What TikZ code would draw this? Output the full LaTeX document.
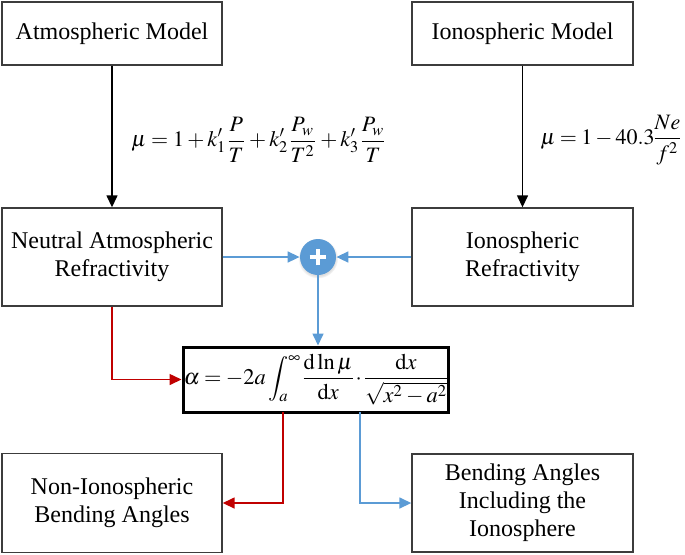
\documentclass[tikz,border=0pt]{standalone}
\usepackage{mathptmx}
\usepackage[no-math]{fontspec}
\setmainfont{Liberation Serif}
\usetikzlibrary{arrows.meta,calc,shadows}
\definecolor{myblue}{RGB}{91,155,213}
\definecolor{myred}{RGB}{192,0,0}
\definecolor{boxgray}{RGB}{60,60,60}
\newcommand{\eqtight}{\medmuskip=2.5mu\thickmuskip=3.5mu\nulldelimiterspace=0pt}
\newcommand{\tallfrac}[2]{\frac{#1\rule[-1.8pt]{0pt}{1pt}}{\rule{0pt}{9.2pt}#2}}
\tikzset{
  box/.style={draw=boxgray,line width=0.7pt,fill=white,align=center,inner sep=0pt,
    font=\fontsize{12}{14}\selectfont},
  blk/.style={draw=black,line width=0.7pt,-{Triangle[length=6pt,width=5.5pt]}},
  bl/.style={draw=myblue,line width=0.8pt,-{Triangle[length=6pt,width=5.5pt]}},
  rd/.style={draw=myred,line width=0.8pt,-{Triangle[length=6pt,width=5.5pt]}},
  eq/.style={font=\fontsize{11}{13}\selectfont,inner sep=0pt},
}
\begin{document}
\begin{tikzpicture}[x=0.5pt,y=-0.5pt]
\useasboundingbox (0,0) rectangle (685,554);
\node[box,minimum width=110pt,minimum height=31.5pt] (A) at (112,33.5) {Atmospheric Model};
\node[box,minimum width=110.5pt,minimum height=31.5pt] (B) at (522.5,33.5) {Ionospheric Model};
\node[box,minimum width=110pt,minimum height=49pt] (C) at (112,257) {Neutral Atmospheric\\Refractivity};
\node[box,minimum width=110.5pt,minimum height=49pt] (D) at (522.5,257) {Ionospheric\\Refractivity};
\node[circle,fill=myblue,minimum size=18pt,inner sep=0pt,
  circular drop shadow={opacity=0.25,shadow xshift=0pt,shadow yshift=-0.6pt,shadow scale=1.12},
  path picture={\draw[white,line width=1.6pt] ([xshift=-4.2pt]path picture bounding box.center) -- ([xshift=4.2pt]path picture bounding box.center);
  \draw[white,line width=1.6pt] ([yshift=-4.2pt]path picture bounding box.center) -- ([yshift=4.2pt]path picture bounding box.center);}] (P) at (318,257) {};
\node[box,draw=black,line width=1.5pt,minimum width=132.5pt,minimum height=32.5pt,font=\fontsize{11.2}{13}\selectfont] (F) at (315.5,379.5)
  {$\eqtight\displaystyle \alpha=-2a\int_a^{\infty}\frac{\mathrm{d}\ln\mu}{\mathrm{d}x}\cdot\frac{\mathrm{d}x}{\sqrt{x^2-a^2}}$};
\node[box,minimum width=110pt,minimum height=49.5pt] (G) at (112,503) {Non-Ionospheric\\Bending Angles};
\node[box,minimum width=110.5pt,minimum height=49pt] (H) at (522.5,503) {Bending Angles\\Including the\\Ionosphere};
\node[eq] (L1) at (259,140)
  {$\displaystyle \mu=1+k_1^{\prime}\tallfrac{P}{T}+k_2^{\prime}\tallfrac{P_w}{T^2}+k_3^{\prime}\tallfrac{P_w}{T}$};
\node[eq] (L2) at (610.5,140)
  {$\eqtight\displaystyle \mu=1-40.3\tallfrac{Ne}{f^2}$};
\draw[blk] (A) -- (C);
\draw[blk] (B) -- (D);
\draw[bl] (C.east) -- (P.west);
\draw[bl] (D.west) -- (P.east);
\draw[bl] (P.south) -- (P.south |- F.north);
\draw[rd] (C.south) |- (F.west);
\coordinate (FR) at (283,412);
\coordinate (FB) at (360,412);
\draw[rd] (FR) |- (G.east);
\draw[bl] (FB) |- (H.west);
\end{tikzpicture}
\end{document}
